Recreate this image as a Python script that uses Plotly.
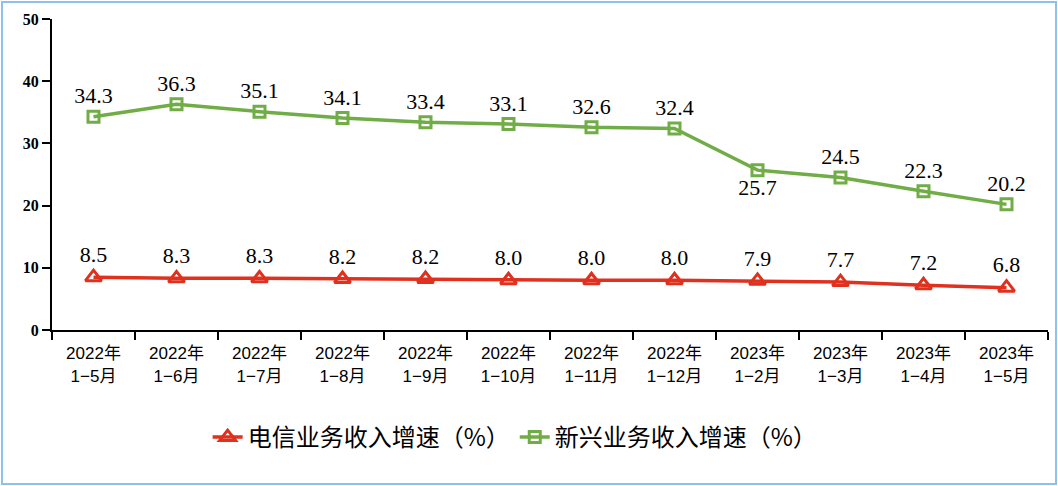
import plotly.graph_objects as go

categories = ["2022年<br>1−5月", "2022年<br>1−6月", "2022年<br>1−7月", "2022年<br>1−8月",
              "2022年<br>1−9月", "2022年<br>1−10月", "2022年<br>1−11月", "2022年<br>1−12月",
              "2023年<br>1−2月", "2023年<br>1−3月", "2023年<br>1−4月", "2023年<br>1−5月"]
telecom = [8.5, 8.3, 8.3, 8.2, 8.2, 8.0, 8.0, 8.0, 7.9, 7.7, 7.2, 6.8]
emerging = [34.3, 36.3, 35.1, 34.1, 33.4, 33.1, 32.6, 32.4, 25.7, 24.5, 22.3, 20.2]
tele_name = "电信业务收入增速（%）"
emer_name = "新兴业务收入增速（%）"

red = "#e0301e"
green = "#70ad47"

green_pos = ["bottom center" if i == 8 else "top center" for i in range(len(emerging))]

fig = go.Figure()
fig.add_trace(go.Scatter(
    x=categories, y=telecom, name=tele_name, mode="lines+markers+text",
    line=dict(color=red, width=3.5),
    marker=dict(symbol="triangle-up-open", size=14, color=red, line=dict(width=3, color=red)),
    text=[f"{v:.1f}" for v in telecom], textposition="top center",
    textfont=dict(family="Liberation Serif", size=22, color="black"),
    cliponaxis=False,
))
fig.add_trace(go.Scatter(
    x=categories, y=emerging, name=emer_name, mode="lines+markers+text",
    line=dict(color=green, width=3.5),
    marker=dict(symbol="square-open", size=11, color=green, line=dict(width=3, color=green)),
    text=[f"{v:.1f}" for v in emerging], textposition=green_pos,
    textfont=dict(family="Liberation Serif", size=22, color="black"),
    cliponaxis=False,
))

ml, mr, mt, mb = 52, 10, 19, 156
W, H = 1058, 486
pw, ph = W - ml - mr, H - mt - mb

fig.update_layout(
    width=W, height=H,
    margin=dict(l=ml, r=mr, t=mt, b=mb, autoexpand=False),
    paper_bgcolor="white", plot_bgcolor="white",
    showlegend=True,
    legend=dict(orientation="h", x=0.465, xanchor="center", y=-(437 - 330 - 22) / ph, yanchor="top",
                font=dict(family="Noto Sans CJK SC", size=24, color="black"),
                itemwidth=30, tracegroupgap=0),
    xaxis=dict(range=[-0.5, len(categories) - 0.5],
               showline=True, linecolor="black", linewidth=2, ticks="outside",
               tickson="boundaries", ticklen=8, tickcolor="black", tickwidth=1.5,
               ticklabelstandoff=7,
               tickfont=dict(family="Liberation Sans, Noto Sans CJK SC", size=17, color="black"),
               showgrid=False, zeroline=False),
    yaxis=dict(range=[0, 50], dtick=10, showline=True, linecolor="black", linewidth=2,
               ticks="outside", ticklen=8, tickcolor="black", tickwidth=1.5,
               tickfont=dict(family="Liberation Serif", size=16, color="black", weight="bold"),
               showgrid=False, zeroline=False),
    shapes=[dict(type="rect", xref="paper", yref="paper",
                 x0=(-ml + 2) / pw, x1=1 + (mr - 2) / pw,
                 y0=-(mb - 2) / ph, y1=1 + (mt - 2) / ph,
                 line=dict(color="#8ec0ec", width=2), fillcolor="rgba(0,0,0,0)")],
)

fig.write_html("out.html", config={"displayModeBar": False},
               post_script="document.body.style.margin='0';")
